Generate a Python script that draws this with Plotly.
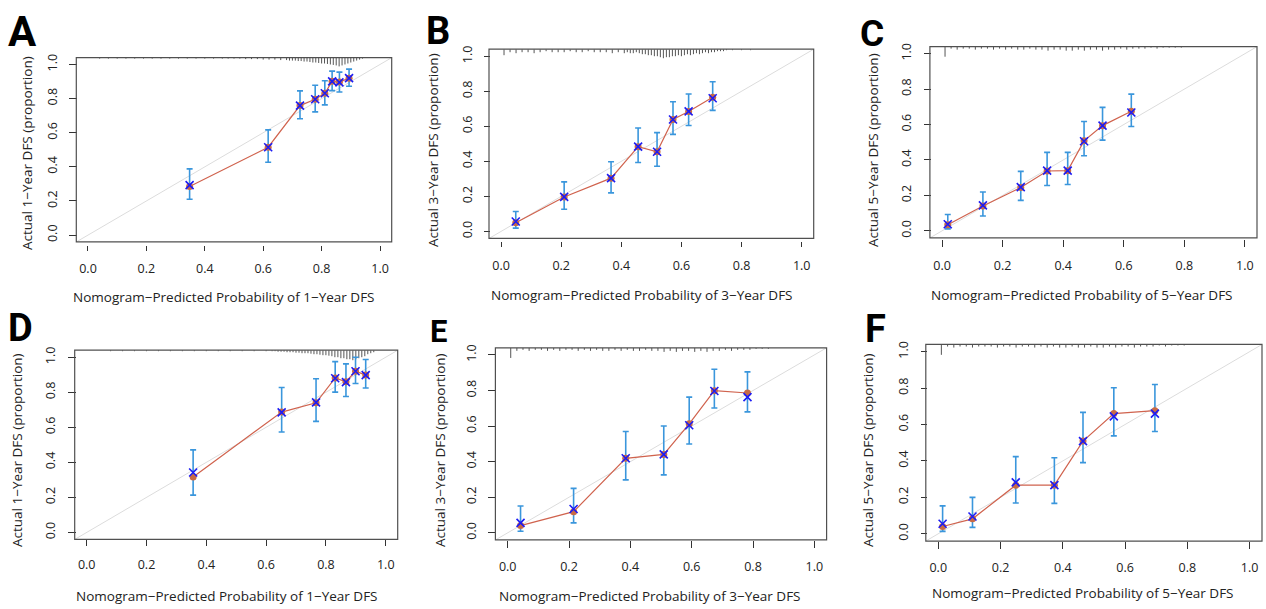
import plotly.graph_objects as go

W, H = 1266, 609
XR = [-0.04, 1.04]
YR = [-0.04, 1.04]
TICKS = [0.0, 0.2, 0.4, 0.6, 0.8, 1.0]
TICKTEXT = ["0.0", "0.2", "0.4", "0.6", "0.8", "1.0"]
LETTERS = ["A", "B", "C", "D", "E", "F"]
YEARS = ["1", "3", "5", "1", "3", "5"]

# ---------------- data ----------------
A_pred = [0.348, 0.617, 0.726, 0.778, 0.811, 0.836, 0.861, 0.894]
A_obs = [0.285, 0.515, 0.759, 0.796, 0.831, 0.901, 0.897, 0.920]
A_cor = [0.293, 0.515, 0.759, 0.796, 0.831, 0.901, 0.895, 0.920]
A_lo = [0.210, 0.427, 0.682, 0.722, 0.763, 0.847, 0.839, 0.872]
A_hi = [0.388, 0.617, 0.845, 0.878, 0.905, 0.961, 0.955, 0.973]

B_pred = [0.049, 0.210, 0.366, 0.456, 0.519, 0.572, 0.624, 0.704]
B_obs = [0.050, 0.197, 0.304, 0.484, 0.455, 0.639, 0.685, 0.766]
B_cor = [0.057, 0.197, 0.304, 0.484, 0.455, 0.639, 0.685, 0.760]
B_lo = [0.019, 0.127, 0.220, 0.393, 0.372, 0.554, 0.605, 0.691]
B_hi = [0.114, 0.283, 0.398, 0.590, 0.564, 0.740, 0.784, 0.854]

C_pred = [0.019, 0.135, 0.260, 0.347, 0.415, 0.469, 0.530, 0.625]
C_obs = [0.035, 0.140, 0.245, 0.338, 0.340, 0.508, 0.594, 0.675]
C_cor = [0.037, 0.144, 0.247, 0.340, 0.340, 0.506, 0.594, 0.668]
C_lo = [0.011, 0.084, 0.172, 0.256, 0.262, 0.424, 0.512, 0.589]
C_hi = [0.092, 0.219, 0.336, 0.443, 0.443, 0.617, 0.697, 0.772]

D_pred = [0.356, 0.652, 0.767, 0.831, 0.867, 0.899, 0.933]
D_obs = [0.317, 0.687, 0.740, 0.882, 0.860, 0.920, 0.898]
D_cor = [0.342, 0.685, 0.742, 0.880, 0.858, 0.920, 0.898]
D_lo = [0.213, 0.573, 0.634, 0.801, 0.776, 0.850, 0.824]
D_hi = [0.471, 0.827, 0.877, 0.975, 0.962, 1.000, 0.987]

E_pred = [0.042, 0.215, 0.385, 0.509, 0.592, 0.674, 0.782]
E_obs = [0.041, 0.119, 0.419, 0.441, 0.613, 0.799, 0.786]
E_cor = [0.056, 0.134, 0.419, 0.441, 0.605, 0.797, 0.763]
E_lo = [0.009, 0.056, 0.298, 0.326, 0.499, 0.702, 0.680]
E_hi = [0.151, 0.250, 0.570, 0.601, 0.763, 0.920, 0.905]

F_pred = [0.014, 0.110, 0.249, 0.373, 0.465, 0.564, 0.696]
F_obs = [0.040, 0.082, 0.267, 0.267, 0.509, 0.660, 0.676]
F_cor = [0.055, 0.095, 0.282, 0.267, 0.509, 0.645, 0.660]
F_lo = [0.013, 0.035, 0.169, 0.167, 0.391, 0.538, 0.562]
F_hi = [0.153, 0.200, 0.424, 0.418, 0.667, 0.802, 0.820]

# rug of predicted risks (position, relative spike length)
A_rug_x = [0.04, 0.07, 0.10, 0.13, 0.16, 0.19, 0.22, 0.25, 0.28, 0.31, 0.34, 0.37, 0.40, 0.43, 0.46,
           0.48, 0.50, 0.52, 0.54, 0.56, 0.58, 0.60, 0.62, 0.64, 0.66, 0.68,
           0.69, 0.70, 0.71, 0.72, 0.73, 0.74, 0.75, 0.76, 0.77, 0.78, 0.79, 0.80, 0.81,
           0.82, 0.83, 0.84, 0.85, 0.86, 0.87, 0.88, 0.89, 0.90, 0.91, 0.92, 0.93, 0.94]
A_rug_h = [1, 1, 1, 1, 1, 1, 1, 1, 1, 1, 1, 1, 1, 1, 1,
           1, 1, 1, 1.5, 1.5, 1.5, 2, 2, 2, 2.5, 2.5,
           3, 3, 3, 3.5, 3.5, 4, 4, 4.5, 5, 5, 5.5, 6, 6,
           6.5, 7, 7.5, 8, 9, 8, 7, 6, 5, 4, 3, 2, 1]

B_rug_x = [0.01, 0.03, 0.05, 0.07, 0.09, 0.11, 0.13, 0.15, 0.17, 0.19, 0.21, 0.23, 0.25, 0.27, 0.29,
           0.31, 0.33, 0.35, 0.37, 0.39, 0.41,
           0.42, 0.43, 0.44, 0.45, 0.46, 0.47, 0.48, 0.49, 0.50, 0.51, 0.52, 0.53, 0.54, 0.55,
           0.56, 0.57, 0.58, 0.59, 0.60, 0.61, 0.62, 0.63, 0.64, 0.65, 0.66, 0.67, 0.68, 0.69,
           0.70, 0.71, 0.72, 0.73, 0.74, 0.75, 0.77, 0.80, 0.83]
B_rug_h = [6, 3, 4, 3, 3, 4, 3, 2, 3, 3, 3, 2, 3, 3, 2,
           3, 3, 3, 4, 3, 4,
           3, 4, 4, 3, 4, 5, 5, 6, 6, 7, 7, 8, 9, 8,
           8, 7, 7, 6, 7, 6, 5, 6, 5, 4, 5, 4, 3, 4,
           3, 3, 2, 2, 2, 1, 1, 1, 1]

C_rug_x = [0.01, 0.03, 0.05, 0.07, 0.09, 0.11, 0.13, 0.15, 0.17, 0.19, 0.21, 0.23, 0.25, 0.27,
           0.29, 0.31, 0.33, 0.35, 0.37, 0.39, 0.41, 0.43, 0.45, 0.47, 0.49, 0.51, 0.53, 0.55,
           0.57, 0.59, 0.61, 0.63, 0.65, 0.67, 0.69, 0.71, 0.73, 0.75, 0.77, 0.79]
C_rug_h = [10, 2, 3, 2, 2, 3, 2, 2, 3, 2, 3, 2, 3, 3,
           2, 3, 3, 4, 3, 3, 4, 4, 3, 4, 3, 3, 4, 3,
           3, 2, 3, 2, 2, 2, 1, 2, 1, 1, 1, 1]

D_rug_x = [0.08, 0.12, 0.16, 0.20, 0.24, 0.28, 0.32, 0.36, 0.40, 0.44, 0.48, 0.52, 0.56, 0.60,
           0.62, 0.63, 0.64, 0.65, 0.66, 0.67, 0.68, 0.69, 0.70, 0.71, 0.72, 0.73, 0.74, 0.75,
           0.76, 0.77, 0.78, 0.79, 0.80, 0.81, 0.82, 0.83, 0.84, 0.85, 0.86, 0.87, 0.88, 0.89,
           0.90, 0.91, 0.92, 0.93, 0.94, 0.95, 0.96]
D_rug_h = [1, 1, 1, 1, 1, 1, 1, 1, 1, 1, 1, 1, 1, 1,
           1, 1, 1.5, 1.5, 1.5, 2, 2, 2, 2.5, 2.5, 3, 3, 3, 3.5,
           4, 4, 4.5, 5, 5, 5.5, 6, 7, 7, 8, 8, 9, 9, 10,
           9, 8, 7, 6, 4, 3, 2]

E_rug_x = [0.01, 0.03, 0.05, 0.07, 0.09, 0.11, 0.13, 0.15, 0.17, 0.19, 0.21, 0.23, 0.25, 0.27,
           0.29, 0.31, 0.33, 0.35, 0.37, 0.39, 0.41, 0.43, 0.45, 0.47, 0.49, 0.51, 0.53, 0.55,
           0.57, 0.59, 0.61, 0.63, 0.65, 0.67, 0.69, 0.71, 0.73, 0.75, 0.77, 0.79, 0.81, 0.83, 0.85]
E_rug_h = [10, 3, 2, 3, 2, 2, 3, 2, 3, 2, 2, 3, 2, 3,
           2, 3, 3, 2, 3, 2, 3, 3, 2, 3, 3, 4, 3, 4,
           3, 3, 4, 3, 4, 3, 3, 2, 3, 2, 2, 2, 1, 1, 1]

F_rug_x = [0.01, 0.03, 0.05, 0.07, 0.09, 0.11, 0.13, 0.15, 0.17, 0.19, 0.21, 0.23, 0.25, 0.27,
           0.29, 0.31, 0.33, 0.35, 0.37, 0.39, 0.41, 0.43, 0.45, 0.47, 0.49, 0.51, 0.53, 0.55,
           0.57, 0.59, 0.61, 0.63, 0.65, 0.67, 0.69, 0.71, 0.73, 0.75, 0.77, 0.79]
F_rug_h = [10, 2, 3, 2, 2, 3, 2, 2, 2, 3, 2, 2, 3, 2,
           2, 3, 2, 3, 2, 3, 3, 2, 3, 3, 2, 3, 3, 2,
           3, 2, 2, 3, 2, 2, 2, 1, 2, 1, 1, 1]

# ---------------- layout geometry (pixels) ----------------
# L, R, T, B: plot box; xl: outer end of x ticks, xlen: x tick length;
# ylen: y tick length (ticks touch the box); xt / yt: axis-title centres;
# lt: letter (centre x, top y of its text box); ls: letter font size
GEOM = [
    dict(L=76.3, R=391.7, T=54.0, B=239.5, xl=248.3, xlen=5, ylen=8, xt=(224, 295), yt=(27, 150),
         lt=(22.5, 2.5), ls=42),
    dict(L=489.0, R=813.7, T=45.5, B=236.0, xl=245.0, xlen=5, ylen=6, xt=(642, 293), yt=(433, 147),
         lt=(437.5, 4.0), ls=38),
    dict(L=929.9, R=1257.0, T=42.9, B=235.5, xl=245.0, xlen=7, ylen=7, xt=(1082, 293), yt=(873, 147),
         lt=(872, 7.0), ls=37),
    dict(L=74.7, R=397.7, T=348.5, B=539.0, xl=546.0, xlen=6, ylen=8, xt=(227, 596), yt=(17, 449),
         lt=(20.5, 303.0), ls=38),
    dict(L=495.4, R=826.6, T=346.1, B=539.5, xl=548.0, xlen=7, ylen=8, xt=(650, 596), yt=(440, 449),
         lt=(438.5, 310.5), ls=31),
    dict(L=925.8, R=1262.0, T=342.7, B=540.6, xl=549.0, xlen=7, ylen=6, xt=(1083, 593), yt=(868, 449),
         lt=(875, 304.0), ls=38),
]

DATA = [
    (A_pred, A_obs, A_cor, A_lo, A_hi, A_rug_x, A_rug_h),
    (B_pred, B_obs, B_cor, B_lo, B_hi, B_rug_x, B_rug_h),
    (C_pred, C_obs, C_cor, C_lo, C_hi, C_rug_x, C_rug_h),
    (D_pred, D_obs, D_cor, D_lo, D_hi, D_rug_x, D_rug_h),
    (E_pred, E_obs, E_cor, E_lo, E_hi, E_rug_x, E_rug_h),
    (F_pred, F_obs, F_cor, F_lo, F_hi, F_rug_x, F_rug_h),
]

FONT = "Open Sans"
LETTER_FONT = "Roboto"
C_DIAG = "#dcdcdc"
C_RUG = "#555555"
C_EB = "#3a96dc"
C_LINE = "#d0634e"
C_DOT = "#c86a46"
C_X = "#1c1cf5"
C_BOX = "#505050"
RUG_SCALE = 0.0057  # y-units per unit of spike length

fig = go.Figure()
shapes = []
annotations = []


def px_x(p):
    return p / W


def px_y(p):
    return 1 - p / H


for i, (g, d) in enumerate(zip(GEOM, DATA)):
    n = i + 1
    xa = "x" if n == 1 else f"x{n}"
    ya = "y" if n == 1 else f"y{n}"
    pred, obs, cor, lo, hi, rx, rh = d

    fig.add_trace(go.Scatter(x=XR, y=YR, mode="lines", line=dict(color=C_DIAG, width=1),
                             xaxis=xa, yaxis=ya, showlegend=False, hoverinfo="skip"))
    rug_x, rug_y = [], []
    for xv, hv in zip(rx, rh):
        rug_x += [xv, xv, None]
        rug_y += [YR[1], YR[1] - hv * RUG_SCALE, None]
    fig.add_trace(go.Scatter(x=rug_x, y=rug_y, mode="lines", line=dict(color=C_RUG, width=1),
                             xaxis=xa, yaxis=ya, showlegend=False, hoverinfo="skip"))
    fig.add_trace(go.Scatter(
        x=pred, y=obs, mode="markers", marker=dict(size=1, color="rgba(0,0,0,0)"),
        error_y=dict(type="data", symmetric=False,
                     array=[h - o for h, o in zip(hi, obs)],
                     arrayminus=[o - l for o, l in zip(obs, lo)],
                     color=C_EB, thickness=1.6, width=3),
        xaxis=xa, yaxis=ya, showlegend=False))
    fig.add_trace(go.Scatter(x=pred, y=obs, mode="lines+markers",
                             line=dict(color=C_LINE, width=1.2),
                             marker=dict(symbol="circle", size=7, color=C_DOT),
                             xaxis=xa, yaxis=ya, showlegend=False))
    fig.add_trace(go.Scatter(x=pred, y=cor, mode="markers",
                             marker=dict(symbol="x-thin", size=8, color=C_X,
                                         line=dict(width=1.6, color=C_X)),
                             xaxis=xa, yaxis=ya, showlegend=False))

    common = dict(showgrid=False, zeroline=False, showline=False, ticks="inside",
                  tickwidth=1, tickcolor="#333", tickvals=TICKS, ticktext=TICKTEXT,
                  tickfont=dict(family=FONT, size=12.5, color="#222"), anchor="free")
    fig.update_layout(**{
        ("xaxis" if n == 1 else f"xaxis{n}"): dict(
            domain=[px_x(g["L"]), px_x(g["R"])], range=XR, position=px_y(g["xl"]),
            ticklen=g["xlen"], ticklabelstandoff=9, **common),
        ("yaxis" if n == 1 else f"yaxis{n}"): dict(
            domain=[px_y(g["B"]), px_y(g["T"])], range=YR, position=px_x(g["L"] - g["ylen"]),
            ticklen=g["ylen"], tickangle=-90, ticklabelstandoff=9, **common),
    })

    shapes.append(dict(type="rect", xref=f"{xa} domain", yref=f"{ya} domain",
                       x0=0, x1=1, y0=0, y1=1, line=dict(color=C_BOX, width=1.2), layer="above"))

    yr = YEARS[i]
    annotations.append(dict(text=f"Nomogram\u2212Predicted Probability of {yr}\u2212Year DFS",
                            x=px_x(g["xt"][0]), y=px_y(g["xt"][1]), xref="paper", yref="paper",
                            showarrow=False, xanchor="center", yanchor="middle",
                            font=dict(family=FONT, size=13.5, color="#222")))
    annotations.append(dict(text=f"Actual {yr}\u2212Year DFS (proportion)",
                            x=px_x(g["yt"][0]), y=px_y(g["yt"][1]), xref="paper", yref="paper",
                            showarrow=False, xanchor="center", yanchor="middle", textangle=-90,
                            font=dict(family=FONT, size=13.5, color="#222")))
    annotations.append(dict(text=f"<b>{LETTERS[i]}</b>",
                            x=px_x(g["lt"][0]), y=px_y(g["lt"][1]), xref="paper", yref="paper",
                            showarrow=False, xanchor="center", yanchor="top", borderpad=0,
                            font=dict(family=LETTER_FONT, size=g["ls"], color="#000")))

fig.update_layout(width=W, height=H, margin=dict(l=0, r=0, t=0, b=0),
                  paper_bgcolor="white", plot_bgcolor="white",
                  shapes=shapes, annotations=annotations, showlegend=False)

fig.write_html("out.html", config={"displayModeBar": False},
               post_script="document.body.style.margin='0';document.body.style.overflow='hidden';")
